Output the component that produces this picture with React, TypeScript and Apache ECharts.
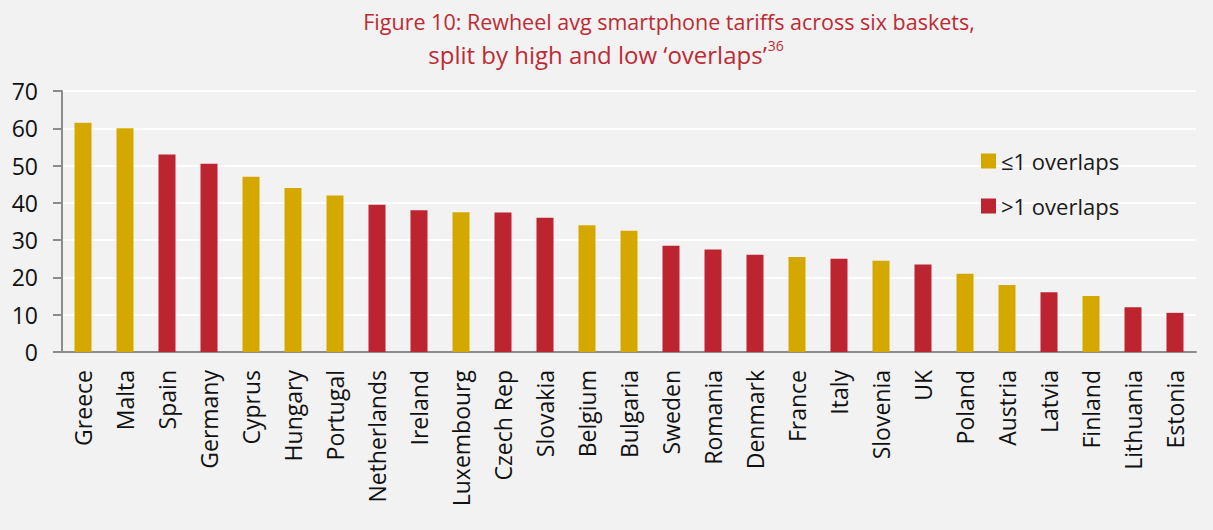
import React, { useEffect, useRef } from "react";
import * as echarts from "echarts";

const categories = [
  "Greece", "Malta", "Spain", "Germany", "Cyprus", "Hungary", "Portugal", "Netherlands",
  "Ireland", "Luxembourg", "Czech Rep", "Slovakia", "Belgium", "Bulgaria", "Sweden",
  "Romania", "Denmark", "France", "Italy", "Slovenia", "UK", "Poland", "Austria",
  "Latvia", "Finland", "Lithuania", "Estonia",
];
const values = [
  61.5, 60.0, 53.0, 50.5, 47.0, 44.0, 42.0, 39.5,
  38.0, 37.5, 37.4, 36.0, 34.0, 32.5, 28.5,
  27.5, 26.1, 25.5, 25.0, 24.5, 23.5, 21.0, 18.0,
  16.0, 15.0, 12.0, 10.5,
];
// true = ">1 overlaps" (high), false = "≤1 overlaps" (low)
const highOverlap = [
  false, false, true, true, false, false, false, true,
  true, false, true, true, false, false, true,
  true, true, false, true, false, true, false, false,
  true, false, true, true,
];
const seriesNames = ["≤1 overlaps", ">1 overlaps"];
const titleLine1 = "Figure 10: Rewheel avg smartphone tariffs across six baskets,";
const titleLine2 = "split by high and low ‘overlaps’";
const titleNote = "36";
const yTicks = { min: 0, max: 70, interval: 10 };

const GOLD = "#d5a800";
const RED = "#bc2430";
const TITLE_RED = "#be2a33";
const FONT = "'Open Sans', sans-serif";

export default function App() {
  const ref = useRef<HTMLDivElement>(null);
  useEffect(() => {
    if (!ref.current) return;
    const chart = echarts.init(ref.current, undefined, { renderer: "svg" });
    const low = values.map((v, i) => (highOverlap[i] ? null : v));
    const high = values.map((v, i) => (highOverlap[i] ? v : null));
    chart.setOption({
      animation: false,
      backgroundColor: "#f2f2f2",
      textStyle: { fontFamily: FONT },
      graphic: [
        {
          type: "text",
          x: 669,
          y: 10,
          style: {
            text: titleLine1,
            fill: TITLE_RED,
            fontSize: 21.5,
            fontFamily: "Open Sans",
            align: "center",
            verticalAlign: "top",
          },
        },
        {
          type: "text",
          x: 606,
          y: 38,
          style: {
            text: `${titleLine2}{sup|${titleNote}}`,
            fill: TITLE_RED,
            fontSize: 24,
            fontFamily: "Open Sans",
            align: "center",
            verticalAlign: "top",
            lineHeight: 32,
            rich: {
              sup: { fontSize: 14, verticalAlign: "top", lineHeight: 32, padding: [0, 0, 13, 1], fill: TITLE_RED, fontFamily: "Open Sans" },
            },
          },
        },
      ],
      legend: {
        orient: "vertical",
        left: 976,
        top: 145,
        itemWidth: 15,
        itemHeight: 15,
        itemGap: 23,
        icon: "rect",
        textStyle: { fontSize: 22, color: "#1a1a1a", fontFamily: FONT },
        data: seriesNames,
      },
      grid: { left: 62, right: 17, top: 91, bottom: 178, containLabel: false },
      xAxis: {
        type: "category",
        data: categories,
        axisLine: { lineStyle: { color: "#8c8c8c", width: 2 } },
        axisTick: { show: false },
        axisLabel: { rotate: 90, margin: 18, fontSize: 23, color: "#111", fontFamily: FONT, interval: 0 },
      },
      yAxis: {
        type: "value",
        min: yTicks.min,
        max: yTicks.max,
        interval: yTicks.interval,
        axisLine: { show: true, lineStyle: { color: "#8c8c8c", width: 2 } },
        axisTick: { show: true, length: 9, lineStyle: { color: "#8c8c8c", width: 2 } },
        axisLabel: { fontSize: 23, color: "#111", margin: 24, fontFamily: FONT },
        splitLine: { lineStyle: { color: "#ffffff", width: 2 } },
      },
      series: [
        { name: seriesNames[0], type: "bar", data: low, barWidth: 17, barGap: "-100%", itemStyle: { color: GOLD } },
        { name: seriesNames[1], type: "bar", data: high, barWidth: 17, barGap: "-100%", itemStyle: { color: RED } },
      ],
    });
    return () => chart.dispose();
  }, []);
  return (
    <div
      ref={ref}
      style={{ position: "absolute", left: 0, top: 0, width: 1213, height: 530, background: "#f2f2f2" }}
    />
  );
}
